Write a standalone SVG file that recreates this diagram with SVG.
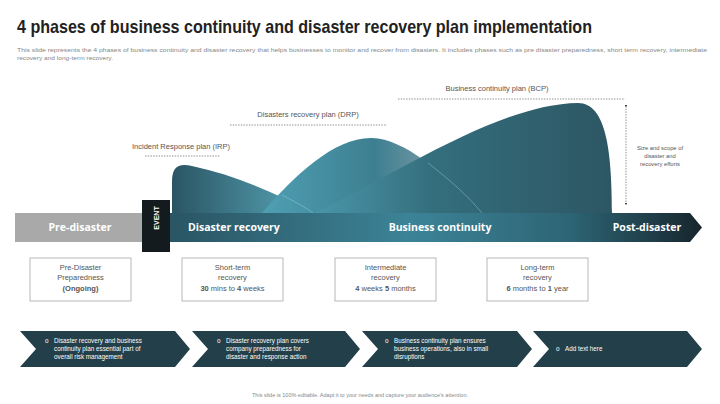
<svg xmlns="http://www.w3.org/2000/svg" width="720" height="404" viewBox="0 0 720 404">
<defs>
<style>
.t{font-family:"Liberation Sans",Arial,sans-serif}
.lbl{font-family:"Liberation Sans",Arial,sans-serif;font-size:7.5px;fill:#555}
.bx{fill:#fff;stroke:#b8b8b8;stroke-width:1}
.bxt{font-family:"Liberation Sans",Arial,sans-serif;font-size:7.5px;fill:#555;text-anchor:middle}
.band{font-family:"Open Sans","Liberation Sans",sans-serif;font-size:10.5px;font-weight:bold;fill:#fff}
.chev{fill:#233f49}
.ct{font-family:"Liberation Sans",Arial,sans-serif;font-size:6.3px;fill:#fff}
.dot{stroke:#777;stroke-width:0.8;stroke-dasharray:1.5 1.2;fill:none}
</style>
<linearGradient id="gBand" x1="0" y1="0" x2="1" y2="0">
<stop offset="0" stop-color="#2a5563"/>
<stop offset="0.45" stop-color="#3c8397"/>
<stop offset="0.75" stop-color="#2d6575"/>
<stop offset="1" stop-color="#17252d"/>
</linearGradient>
<linearGradient id="gIRP" x1="0" y1="0" x2="1" y2="0">
<stop offset="0" stop-color="#2a5563"/>
<stop offset="1" stop-color="#5aa8bb"/>
</linearGradient>
<linearGradient id="gDRP" x1="0" y1="0" x2="1" y2="0">
<stop offset="0" stop-color="#4f9fb3"/>
<stop offset="0.5" stop-color="#3d7f91"/>
<stop offset="1" stop-color="#a9b0b4"/>
</linearGradient>
<linearGradient id="gBCP" x1="0" y1="0" x2="1" y2="0">
<stop offset="0" stop-color="#4a96aa"/>
<stop offset="0.4" stop-color="#346e7d"/>
<stop offset="1" stop-color="#2d5663"/>
</linearGradient>
<marker id="md" viewBox="0 0 4 4" refX="2" refY="2" markerWidth="3" markerHeight="3" orient="auto">
<path d="M0,0 L4,2 L0,4 Z" fill="#444"/>
</marker>
</defs>
<rect width="720" height="404" fill="#fff"/>

<g id="title">
<text class="t" x="17" y="33" font-size="19" font-weight="bold" fill="#222" textLength="575" lengthAdjust="spacingAndGlyphs">4 phases of business continuity and disaster recovery plan implementation</text>
<text class="t" x="17" y="52" font-size="5.2" fill="#888" textLength="690" lengthAdjust="spacingAndGlyphs">This slide represents the 4 phases of business continuity and disaster recovery that helps businesses to monitor and recover from disasters. It includes phases such as pre disaster preparedness, short term recovery, intermediate</text>
<text class="t" x="17" y="60" font-size="5.2" fill="#888" textLength="96" lengthAdjust="spacingAndGlyphs">recovery and long-term recovery.</text>
</g>

<g id="curves">
<path id="irp" d="M172,213 L172,182 C172,167 178,163 192,166 C235,175 275,193 315,213 Z" fill="url(#gIRP)"/>
<path id="drp" d="M262,213 C295,175 335,137 372,138 C405,139 440,172 488,213 Z" fill="url(#gDRP)"/>
<path id="bcp" d="M315,213 C400,172 500,104 578,103 C606,103 612,150 612,213 Z" fill="url(#gBCP)"/>
<path d="M428,163 C450,180 468,196 482,213" fill="none" stroke="#7fb6c4" stroke-width="0.6"/>
<path d="M282,195 C295,202 305,207 313,213" fill="none" stroke="#8cc3d0" stroke-width="0.6"/>
</g>

<g id="band">
<rect x="15" y="213" width="128" height="29" fill="#a9a9a9"/>
<path d="M170,213 L690,213 L702,227.5 L690,242 L170,242 Z" fill="url(#gBand)"/>
<text class="band" x="80" y="231" text-anchor="middle">Pre-disaster</text>
<text class="band" x="188" y="231">Disaster recovery</text>
<text class="band" x="440" y="231" text-anchor="middle">Business continuity</text>
<text class="band" x="647" y="231" text-anchor="middle">Post-disaster</text>
</g>

<g id="event">
<rect x="142" y="200" width="28" height="52" fill="#141b1f"/>
<text class="t" x="0" y="0" transform="translate(159,218) rotate(-90)" font-size="7" font-weight="bold" fill="#fff" text-anchor="middle">EVENT</text>
</g>

<g id="labels">
<text class="lbl" x="181" y="149" text-anchor="middle">Incident  Response plan (IRP)</text>
<path class="dot" d="M145,156 H220"/>
<text class="lbl" x="308" y="117" text-anchor="middle">Disasters recovery  plan (DRP)</text>
<path class="dot" d="M230,125 H387"/>
<text class="lbl" x="497" y="91" text-anchor="middle">Business continuity  plan (BCP)</text>
<path class="dot" d="M398,99 H625"/>
<path class="dot" d="M626,106 V204" marker-start="url(#md)" marker-end="url(#md)"/>
<text class="t" font-size="5.8" fill="#555" text-anchor="middle"><tspan x="660" y="150">Size and scope of</tspan><tspan x="660" y="158">disaster and</tspan><tspan x="660" y="166">recovery efforts</tspan></text>
</g>

<g id="box1">
<rect class="bx" x="30" y="258" width="101" height="43"/>
<text class="bxt"><tspan x="80.5" y="270">Pre-Disaster</tspan><tspan x="80.5" y="280">Preparedness</tspan><tspan x="80.5" y="291" font-weight="bold">(Ongoing)</tspan></text>
</g>
<g id="box2">
<rect class="bx" x="182" y="258" width="101" height="43"/>
<text class="bxt"><tspan x="232.5" y="270">Short-term</tspan><tspan x="232.5" y="280">recovery</tspan><tspan x="232.5" y="291"><tspan font-weight="bold">30</tspan> mins to <tspan font-weight="bold">4</tspan> weeks</tspan></text>
</g>
<g id="box3">
<rect class="bx" x="335" y="258" width="101" height="43"/>
<text class="bxt"><tspan x="385.5" y="270">Intermediate</tspan><tspan x="385.5" y="280">recovery</tspan><tspan x="385.5" y="291"><tspan font-weight="bold">4</tspan> weeks <tspan font-weight="bold">5</tspan> months</tspan></text>
</g>
<g id="box4">
<rect class="bx" x="487" y="258" width="101" height="43"/>
<text class="bxt"><tspan x="537.5" y="270">Long-term</tspan><tspan x="537.5" y="280">recovery</tspan><tspan x="537.5" y="291"><tspan font-weight="bold">6</tspan> months  to <tspan font-weight="bold">1</tspan> year</tspan></text>
</g>

<g id="chev1">
<path class="chev" d="M20,331 L175,331 L190,349 L175,367 L20,367 L36,349 Z"/>
<text class="ct" x="45" y="343">o</text>
<text class="ct"><tspan x="54" y="343">Disaster recovery  and business</tspan><tspan x="54" y="351">continuity plan essential part of</tspan><tspan x="54" y="359">overall risk management</tspan></text>
</g>
<g id="chev2">
<path class="chev" d="M192,331 L345,331 L360,349 L345,367 L192,367 L208,349 Z"/>
<text class="ct" x="217" y="343">o</text>
<text class="ct"><tspan x="226" y="343">Disaster recovery  plan covers</tspan><tspan x="226" y="351">company preparedness  for</tspan><tspan x="226" y="359">disaster and response action</tspan></text>
</g>
<g id="chev3">
<path class="chev" d="M362,331 L517,331 L532,349 L517,367 L362,367 L378,349 Z"/>
<text class="ct" x="385" y="343">o</text>
<text class="ct"><tspan x="394" y="343">Business continuity plan ensures</tspan><tspan x="394" y="351">business operations,  also in small</tspan><tspan x="394" y="359">disruptions</tspan></text>
</g>
<g id="chev4">
<path class="chev" d="M533,331 L687,331 L702,349 L687,367 L533,367 L549,349 Z"/>
<text class="ct" x="556" y="351">o</text>
<text class="ct" x="565" y="351">Add text here</text>
</g>

<text class="t" x="360" y="397" font-size="5.5" fill="#888" text-anchor="middle">This slide is 100% editable. Adapt it to your needs and capture your audience's attention.</text>
</svg>
